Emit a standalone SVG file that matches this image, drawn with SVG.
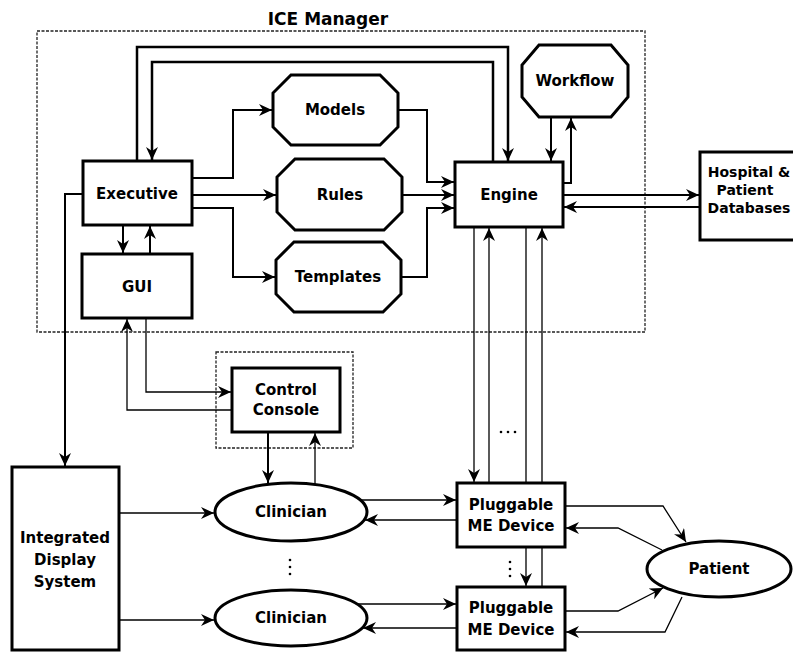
<svg xmlns="http://www.w3.org/2000/svg" width="793" height="652" viewBox="0 0 793 652">
<style>
.box{fill:#fff;stroke:#000;stroke-width:3}
.ell{fill:#fff;stroke:#000;stroke-width:3}
.dot{fill:none;stroke:#222;stroke-width:1.3;stroke-dasharray:3,1.5}
.t{font-family:"DejaVu Sans","Liberation Sans",sans-serif;font-weight:bold;font-size:15px;fill:#000;text-anchor:middle;dominant-baseline:central}
.ts{font-size:14px}
.ttl{font-family:"DejaVu Sans","Liberation Sans",sans-serif;font-weight:bold;font-size:17px;fill:#000;text-anchor:middle}
.k{fill:none;stroke:#000;stroke-width:2.5}
.m{fill:none;stroke:#000;stroke-width:2}
.n{fill:none;stroke:#000;stroke-width:1.3}
</style>
<defs>
<marker id="ah" markerUnits="userSpaceOnUse" markerWidth="14" markerHeight="12" refX="13" refY="6" orient="auto">
<path d="M0,0 L13,6 L0,12 L4,6 z" fill="#000"/>
</marker>
</defs>
<rect width="793" height="652" fill="#fff"/>

<g id="ice-manager">
<rect x="37" y="31" width="608" height="301" class="dot"/>
<text x="328" y="25" class="ttl">ICE Manager</text>
</g>
<g id="console-frame">
<rect x="216" y="352" width="137" height="96" class="dot"/>
</g>

<g id="connectors">
<path class="k" d="M137,161 V47 H508 V161" marker-end="url(#ah)"/>
<path class="k" d="M493,162 V62 H152 V160" marker-end="url(#ah)"/>
<path class="m" d="M192,178 H233 V110 H272" marker-end="url(#ah)"/>
<path class="m" d="M192,195 H276" marker-end="url(#ah)"/>
<path class="m" d="M192,208 H233 V277 H275" marker-end="url(#ah)"/>
<path class="m" d="M398,110 H427 V182 H454" marker-end="url(#ah)"/>
<path class="m" d="M402,195 H454" marker-end="url(#ah)"/>
<path class="m" d="M401,277 H427 V208 H454" marker-end="url(#ah)"/>
<path class="m" d="M551,117 V161" marker-end="url(#ah)"/>
<path class="m" d="M563,183 H571 V118" marker-end="url(#ah)"/>
<path class="m" d="M563,195 H699" marker-end="url(#ah)"/>
<path class="m" d="M700,207 H564" marker-end="url(#ah)"/>
<path class="m" d="M123,225 V253" marker-end="url(#ah)"/>
<path class="m" d="M150,254 V226" marker-end="url(#ah)"/>
<path class="m" d="M83,194 H65 V466" marker-end="url(#ah)"/>
<path class="n" d="M146,318 V392 H231" marker-end="url(#ah)"/>
<path class="n" d="M232,410 H127 V319" marker-end="url(#ah)"/>
<path class="m" d="M268,432 V483" marker-end="url(#ah)"/>
<path class="n" d="M315,486 V433" marker-end="url(#ah)"/>
<path class="n" d="M119,513 H214" marker-end="url(#ah)"/>
<path class="n" d="M119,620 H214" marker-end="url(#ah)"/>
<path class="n" d="M474,227 V482" marker-end="url(#ah)"/>
<path class="n" d="M489,483 V228" marker-end="url(#ah)"/>
<path class="n" d="M526,227 V483 M526,547 V586" marker-end="url(#ah)"/>
<path class="n" d="M542,587 V547 M542,483 V228" marker-end="url(#ah)"/>
<path class="n" d="M361,500 H456" marker-end="url(#ah)"/>
<path class="n" d="M457,520 H365" marker-end="url(#ah)"/>
<path class="n" d="M358,604 H456" marker-end="url(#ah)"/>
<path class="n" d="M457,628 H363" marker-end="url(#ah)"/>
<path class="n" d="M565,506 H663 L686,542" marker-end="url(#ah)"/>
<path class="n" d="M662,550 L618,528 H566" marker-end="url(#ah)"/>
<path class="n" d="M565,611 H618 L663,588" marker-end="url(#ah)"/>
<path class="n" d="M682,597 L665,632 H566" marker-end="url(#ah)"/>
</g>

<g id="ellipsis-marks" fill="#000">
<circle cx="501" cy="432" r="1.3"/><circle cx="508" cy="432" r="1.3"/><circle cx="515" cy="432" r="1.3"/>
<circle cx="510" cy="562" r="1.3"/><circle cx="510" cy="569" r="1.3"/><circle cx="510" cy="576" r="1.3"/>
<circle cx="290" cy="560" r="1.3"/><circle cx="290" cy="567" r="1.3"/><circle cx="290" cy="574" r="1.3"/>
</g>

<g id="executive">
<rect x="83" y="161" width="109" height="64" class="box"/>
<text x="137" y="194" class="t">Executive</text>
</g>
<g id="gui">
<rect x="82" y="254" width="110" height="64" class="box"/>
<text x="137" y="287" class="t">GUI</text>
</g>
<g id="models">
<polygon points="291,75 380,75 398,93 398,127 380,145 291,145 273,127 273,93" class="box"/>
<text x="335" y="110" class="t">Models</text>
</g>
<g id="rules">
<polygon points="295,159 384,159 402,177 402,212 384,230 295,230 277,212 277,177" class="box"/>
<text x="340" y="195" class="t">Rules</text>
</g>
<g id="templates">
<polygon points="294,242 383,242 401,260 401,294 383,312 294,312 276,294 276,260" class="box"/>
<text x="338" y="277" class="t">Templates</text>
</g>
<g id="engine">
<rect x="455" y="162" width="108" height="65" class="box"/>
<text x="509" y="195" class="t">Engine</text>
</g>
<g id="workflow">
<polygon points="539,45 611,45 628,65 628,97 611,117 539,117 522,97 522,65" class="box"/>
<text x="575" y="81" class="t">Workflow</text>
</g>
<g id="hospital">
<rect x="700" y="152" width="100" height="88" class="box"/>
<text x="749" y="172" class="t ts">Hospital &amp;</text>
<text x="745" y="190" class="t ts">Patient</text>
<text x="749" y="208" class="t ts">Databases</text>
</g>
<g id="control-console">
<rect x="232" y="368" width="108" height="64" class="box"/>
<text x="286" y="390" class="t">Control</text>
<text x="286" y="410" class="t">Console</text>
</g>
<g id="integrated-display">
<rect x="12" y="467" width="107" height="183" class="box"/>
<text x="65" y="538" class="t">Integrated</text>
<text x="65" y="560" class="t">Display</text>
<text x="65" y="582" class="t">System</text>
</g>
<g id="clinician-1">
<ellipse cx="291" cy="512" rx="76" ry="29" class="ell"/>
<text x="291" y="512" class="t">Clinician</text>
</g>
<g id="clinician-2">
<ellipse cx="291" cy="618" rx="76" ry="28" class="ell"/>
<text x="291" y="618" class="t">Clinician</text>
</g>
<g id="pluggable-1">
<rect x="457" y="483" width="108" height="64" class="box"/>
<text x="511" y="505" class="t">Pluggable</text>
<text x="511" y="526" class="t">ME Device</text>
</g>
<g id="pluggable-2">
<rect x="457" y="587" width="108" height="63" class="box"/>
<text x="511" y="608" class="t">Pluggable</text>
<text x="511" y="630" class="t">ME Device</text>
</g>
<g id="patient">
<ellipse cx="719" cy="569" rx="72" ry="28" class="ell"/>
<text x="719" y="569" class="t">Patient</text>
</g>
</svg>
